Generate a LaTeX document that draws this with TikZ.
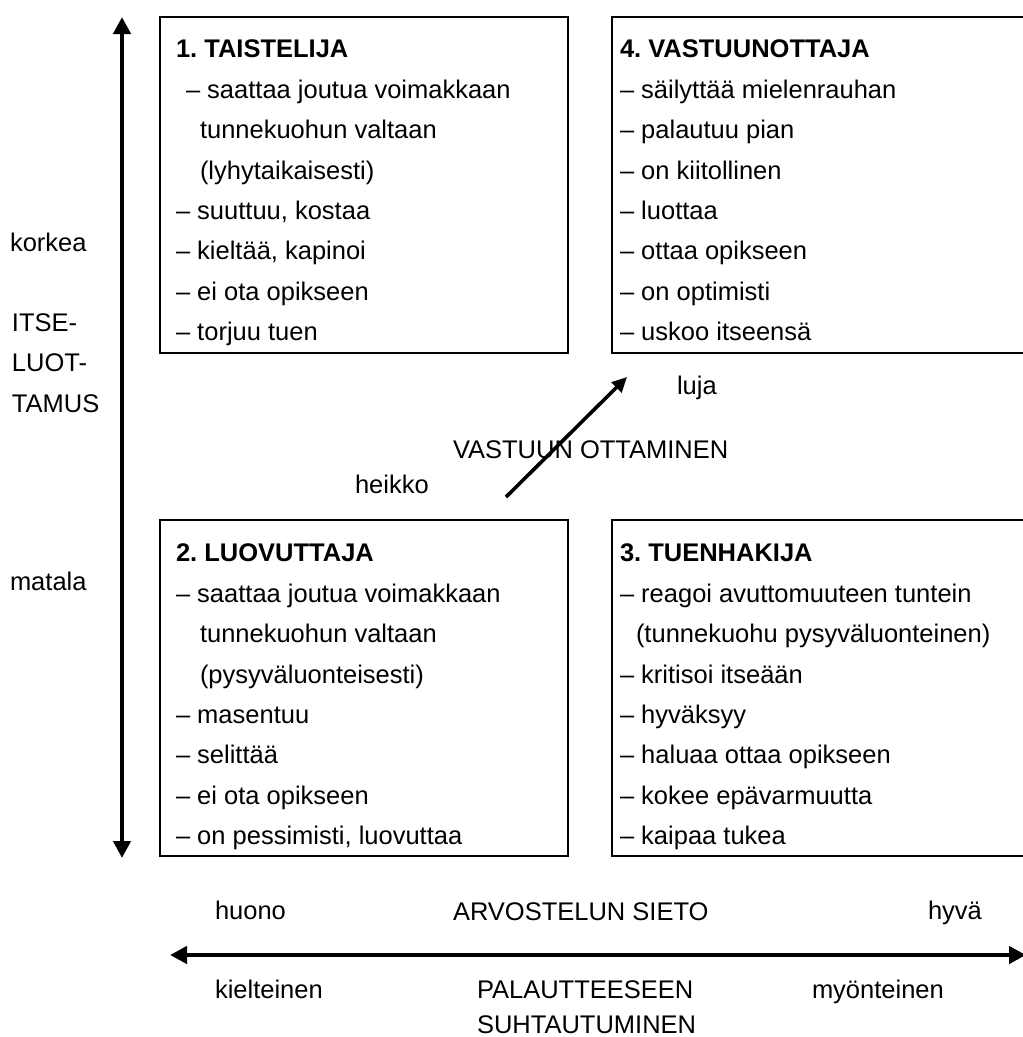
\documentclass[tikz,border=0pt]{standalone}
\usepackage{fontspec}
\setmainfont{Liberation Sans}
\usetikzlibrary{arrows.meta}
\frenchspacing
\begin{document}
\begin{tikzpicture}[x=1pt,y=-1pt,
  every node/.style={inner sep=0pt,outer sep=0pt,anchor=base west,
    font=\fontsize{25.5}{32}\selectfont},
  box/.style={draw,line width=1.6pt,anchor=north west,minimum width=#1,minimum height=336pt},
  head/.style={font=\fontsize{25.5}{32}\selectfont\bfseries},
  bigarrow/.style={line width=4.6pt,{Triangle[length=17pt,width=17pt]}-{Triangle[length=17pt,width=17pt]}},
  diagarrow/.style={line width=3.6pt,-{Triangle[length=15pt,width=14pt]}}]
\clip (0,0) rectangle (1023,1037);

% quadrant boxes
\node[box=408pt] (q1) at (160,17) {};
\node[box=430pt] (q4) at (612,17) {};
\node[box=408pt] (q2) at (160,520) {};
\node[box=430pt] (q3) at (612,520) {};

% box 1
\node[head] (t1) at (176,57) {1. TAISTELIJA};
\node (a1) at (186,98) {– saattaa joutua voimakkaan};
\node (a2) at (200,138.5) {tunnekuohun valtaan};
\node (a3) at (200,179) {(lyhytaikaisesti)};
\node (a4) at (176,219) {– suuttuu, kostaa};
\node (a5) at (176,259.5) {– kieltää, kapinoi};
\node (a6) at (176,300) {– ei ota opikseen};
\node (a7) at (176,340) {– torjuu tuen};

% box 4
\node[head] (t4) at (620,57) {4. VASTUUNOTTAJA};
\node (d1) at (620,98) {– säilyttää mielenrauhan};
\node (d2) at (620,138.5) {– palautuu pian};
\node (d3) at (620,179) {– on kiitollinen};
\node (d4) at (620,219) {– luottaa};
\node (d5) at (620,259.5) {– ottaa opikseen};
\node (d6) at (620,300) {– on optimisti};
\node (d7) at (620,340) {– uskoo itseensä};

% box 2
\node[head] (t2) at (176,561) {2. LUOVUTTAJA};
\node (b1) at (176,602) {– saattaa joutua voimakkaan};
\node (b2) at (200,642.5) {tunnekuohun valtaan};
\node (b3) at (200,683) {(pysyväluonteisesti)};
\node (b4) at (176,723) {– masentuu};
\node (b5) at (176,763.5) {– selittää};
\node (b6) at (176,804) {– ei ota opikseen};
\node (b7) at (176,844) {– on pessimisti, luovuttaa};

% box 3
\node[head] (t3) at (620,561) {3. TUENHAKIJA};
\node (c1) at (620,602) {– reagoi avuttomuuteen tuntein};
\node (c2) at (636,642.5) {(tunnekuohu pysyväluonteinen)};
\node (c3) at (620,683) {– kritisoi itseään};
\node (c4) at (620,723) {– hyväksyy};
\node (c5) at (620,763.5) {– haluaa ottaa opikseen};
\node (c6) at (620,804) {– kokee epävarmuutta};
\node (c7) at (620,844) {– kaipaa tukea};

% vertical axis
\coordinate (vtop) at (122,17);
\coordinate (vbot) at (122,858);
\draw[bigarrow] (vbot) -- (vtop);
\node (korkea) at (10,251) {korkea};
\node (itse1) at (12,331) {ITSE-};
\node (itse2) at (12,371.5) {LUOT-};
\node (itse3) at (12,412) {TAMUS};
\node (matala) at (10,590) {matala};

% responsibility
\node (luja) at (677,394) {luja};
\node (vast) at (453,458) {VASTUUN OTTAMINEN};
\node (heikko) at (355,493) {heikko};
\coordinate (dfrom) at (506,497);
\coordinate (dto) at (627,377);
\draw[diagarrow] (dfrom) -- (dto);

% horizontal axis
\node (huono) at (215,919) {huono};
\node (arvo) at (453,920) {ARVOSTELUN SIETO};
\node (hyva) at (928,919) {hyvä};
\coordinate (hleft) at (170,955);
\coordinate (hright) at (1026,955);
\draw[bigarrow] (hleft) -- (hright);
\node (kiel) at (215,998) {kielteinen};
\node (pal1) at (477,998) {PALAUTTEESEEN};
\node (pal2) at (477,1033) {SUHTAUTUMINEN};
\node (myon) at (812,998) {myönteinen};
\end{tikzpicture}
\end{document}
